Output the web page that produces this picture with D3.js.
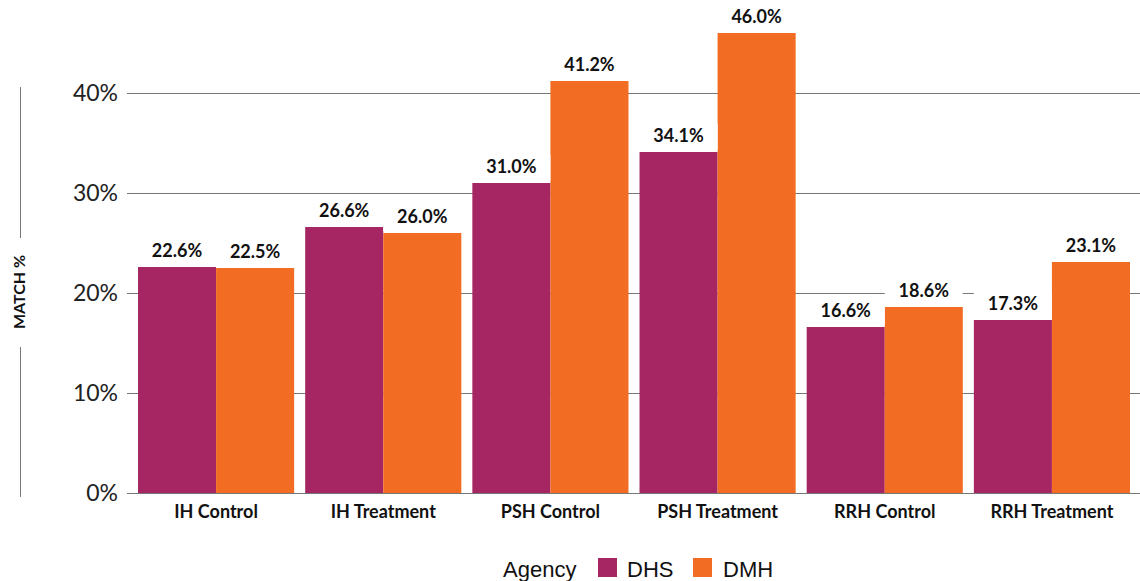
<!DOCTYPE html>
<html><head><meta charset="utf-8">
<script src="https://cdn.jsdelivr.net/npm/d3@7"></script>
<style>body{margin:0;background:#fff}svg{display:block}</style>
</head><body>
<svg id="c" width="1140" height="581"></svg>
<script>
const categories = ["IH Control","IH Treatment","PSH Control","PSH Treatment","RRH Control","RRH Treatment"];
const seriesNames = ["DHS","DMH"];
const dhsValues = [22.6, 26.6, 31.0, 34.1, 16.6, 17.3];
const dmhValues = [22.5, 26.0, 41.2, 46.0, 18.6, 23.1];
const yTicks = [0, 10, 20, 30, 40];
const colors = ["#A52662", "#F26D23"];

const data = categories.map((c,i)=>({cat:c, vals:[dhsValues[i], dmhValues[i]]}));
const svg = d3.select("#c");
const x0 = d3.scaleBand().domain(categories).range([132.5, 1135.5]).paddingInner(0.066).paddingOuter(0.033);
const x1 = d3.scaleBand().domain(seriesNames).range([0, x0.bandwidth()]);
const y = d3.scaleLinear().domain([0, 40]).range([493, 93]);

// gridlines
svg.append("g").selectAll("line").data(yTicks).join("line")
  .attr("x1",127).attr("x2",1140).attr("y1",d=>Math.round(y(d))+0.5).attr("y2",d=>Math.round(y(d))+0.5)
  .attr("stroke","#777").attr("stroke-width",1.2);

// y labels
svg.append("g").selectAll("text").data(yTicks).join("text")
  .attr("x",118).attr("y",d=>y(d)).attr("dy","0.35em").attr("text-anchor","end")
  .attr("font-family","Lato, sans-serif").attr("font-size",23).attr("fill","#222")
  .text(d=>d+"%");

// bars
const g = svg.append("g").selectAll("g").data(data).join("g")
  .attr("transform",d=>`translate(${x0(d.cat)},0)`);
g.selectAll("rect").data(d=>d.vals.map((v,i)=>({v,s:seriesNames[i],i}))).join("rect")
  .attr("x",d=>x1(d.s)).attr("width",x1.bandwidth())
  .attr("y",d=>y(d.v)).attr("height",d=>y(0)-y(d.v))
  .attr("fill",d=>colors[d.i]);

// value labels with white bg
const labLayer = svg.append("g").selectAll("g").data(data).join("g")
  .attr("transform",d=>`translate(${x0(d.cat)},0)`);
const lab = labLayer.selectAll("g").data(d=>d.vals.map((v,i)=>({v,s:seriesNames[i],i}))).join("g");
lab.append("rect")
  .attr("x",d=>x1(d.s)).attr("width",x1.bandwidth())
  .attr("y",d=>y(d.v)-28).attr("height",26).attr("fill","#fff");
lab.append("text")
  .attr("x",d=>x1(d.s)+x1.bandwidth()/2).attr("y",d=>y(d.v)-10)
  .attr("text-anchor","middle").attr("font-family","Lato, sans-serif").attr("font-weight","bold")
  .attr("font-size",18).attr("fill","#111")
  .text(d=>d.v.toFixed(1)+"%");

// category labels
svg.append("g").selectAll("text").data(categories).join("text")
  .attr("x",d=>x0(d)+x0.bandwidth()/2).attr("y",518).attr("text-anchor","middle")
  .attr("font-family","Lato, sans-serif").attr("font-weight","bold").attr("font-size",18).attr("fill","#111")
  .text(d=>d);

// y axis title
svg.append("text").attr("transform","translate(25,292) rotate(-90)").attr("text-anchor","middle")
  .attr("font-family","Lato, sans-serif").attr("font-weight","bold").attr("font-size",16).attr("fill","#111")
  .text("MATCH %");
svg.append("line").attr("x1",20.5).attr("x2",20.5).attr("y1",87).attr("y2",238).attr("stroke","#777");
svg.append("line").attr("x1",20.5).attr("x2",20.5).attr("y1",347).attr("y2",497).attr("stroke","#777");

// legend
const leg = svg.append("g").attr("font-family","Liberation Sans, Arial, sans-serif").attr("font-size",22).attr("fill","#111");
leg.append("text").attr("x",503).attr("y",577).text("Agency");
const items = [{sx:598,tx:627},{sx:693,tx:723}];
items.forEach((it,i)=>{
  leg.append("rect").attr("x",it.sx).attr("y",558).attr("width",19).attr("height",19).attr("fill",colors[i]);
  leg.append("text").attr("x",it.tx).attr("y",577).text(seriesNames[i]);
});
</script>
</body></html>
